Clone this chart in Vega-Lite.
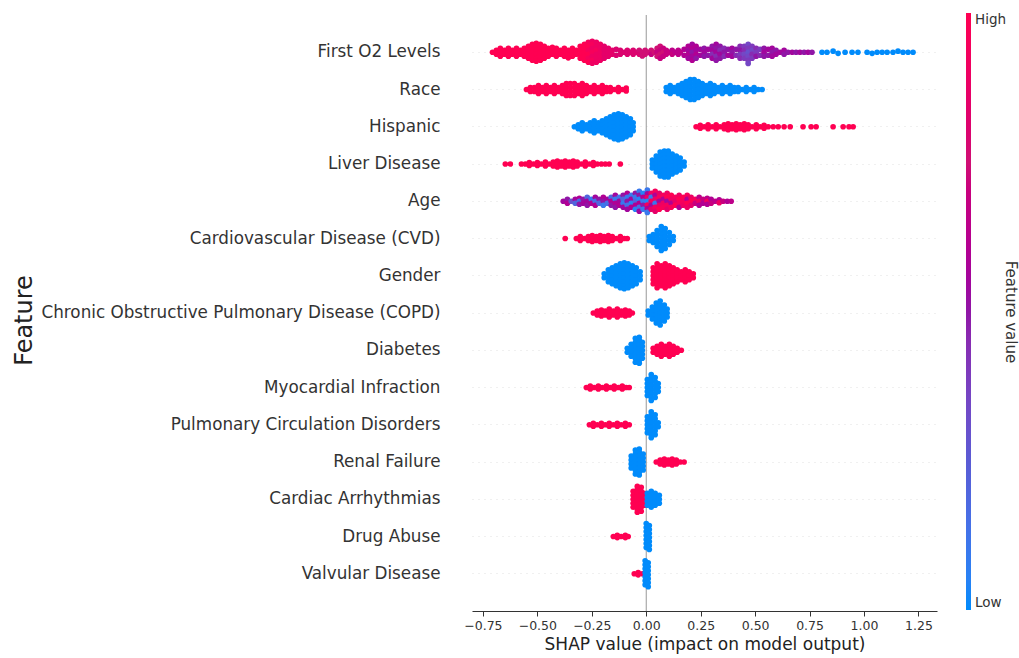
{
"$schema": "https://vega.github.io/schema/vega-lite/v6.json",
"width": 465,
"height": 596,
"autosize": {"type": "none"},
"padding": {"left": 472, "top": 15, "right": 82, "bottom": 47},
"background": "white",
"config": {"view": {"stroke": null}, "font": "DejaVu Sans"},
"datasets": {
"names": [
{"k":"o2","n":"First O2 Levels"},{"k":"ra","n":"Race"},{"k":"hi","n":"Hispanic"},{"k":"li","n":"Liver Disease"},{"k":"ag","n":"Age"},
{"k":"cv","n":"Cardiovascular Disease (CVD)"},{"k":"ge","n":"Gender"},{"k":"co","n":"Chronic Obstructive Pulmonary Disease (COPD)"},{"k":"di","n":"Diabetes"},
{"k":"my","n":"Myocardial Infraction"},{"k":"pu","n":"Pulmonary Circulation Disorders"},{"k":"re","n":"Renal Failure"},{"k":"ca","n":"Cardiac Arrhythmias"},
{"k":"dr","n":"Drug Abuse"},{"k":"va","n":"Valvular Disease"}
],
"pts": [
{"f":"o2","x":-0.706,"j":0,"c":1},
{"f":"o2","x":-0.688,"j":-0.054,"c":1},{"f":"o2","x":-0.688,"j":0.054,"c":1},
{"f":"o2","x":-0.670,"j":-0.107,"c":1},{"f":"o2","x":-0.670,"j":0,"c":1},{"f":"o2","x":-0.670,"j":0.107,"c":1},
{"f":"o2","x":-0.651,"j":-0.054,"c":1},{"f":"o2","x":-0.651,"j":0.054,"c":1},
{"f":"o2","x":-0.633,"j":-0.107,"c":1},{"f":"o2","x":-0.633,"j":0,"c":1},{"f":"o2","x":-0.633,"j":0.107,"c":1},
{"f":"o2","x":-0.615,"j":-0.054,"c":1},{"f":"o2","x":-0.615,"j":0.054,"c":1},
{"f":"o2","x":-0.596,"j":-0.107,"c":1},{"f":"o2","x":-0.596,"j":0,"c":1},{"f":"o2","x":-0.596,"j":0.107,"c":1},
{"f":"o2","x":-0.578,"j":-0.054,"c":1},{"f":"o2","x":-0.578,"j":0.054,"c":1},
{"f":"o2","x":-0.560,"j":-0.107,"c":1},{"f":"o2","x":-0.560,"j":0,"c":1},{"f":"o2","x":-0.560,"j":0.107,"c":1},
{"f":"o2","x":-0.541,"j":-0.161,"c":1},{"f":"o2","x":-0.541,"j":-0.054,"c":1},{"f":"o2","x":-0.541,"j":0.054,"c":1},{"f":"o2","x":-0.541,"j":0.161,"c":1},
{"f":"o2","x":-0.523,"j":-0.215,"c":1},{"f":"o2","x":-0.523,"j":-0.107,"c":1},{"f":"o2","x":-0.523,"j":0,"c":1},{"f":"o2","x":-0.523,"j":0.107,"c":1},{"f":"o2","x":-0.523,"j":0.215,"c":1},
{"f":"o2","x":-0.505,"j":-0.242,"c":1},{"f":"o2","x":-0.505,"j":-0.161,"c":1},{"f":"o2","x":-0.505,"j":-0.054,"c":1},{"f":"o2","x":-0.505,"j":0.054,"c":1},{"f":"o2","x":-0.505,"j":0.161,"c":1},{"f":"o2","x":-0.505,"j":0.242,"c":1},
{"f":"o2","x":-0.486,"j":-0.215,"c":1},{"f":"o2","x":-0.486,"j":-0.107,"c":1},{"f":"o2","x":-0.486,"j":0,"c":1},{"f":"o2","x":-0.486,"j":0.107,"c":1},{"f":"o2","x":-0.486,"j":0.215,"c":1},
{"f":"o2","x":-0.468,"j":-0.161,"c":1},{"f":"o2","x":-0.468,"j":-0.054,"c":1},{"f":"o2","x":-0.468,"j":0.054,"c":1},{"f":"o2","x":-0.468,"j":0.161,"c":1},
{"f":"o2","x":-0.450,"j":-0.107,"c":1},{"f":"o2","x":-0.450,"j":0,"c":1},{"f":"o2","x":-0.450,"j":0.107,"c":1},
{"f":"o2","x":-0.431,"j":-0.134,"c":1},{"f":"o2","x":-0.431,"j":-0.054,"c":1},{"f":"o2","x":-0.431,"j":0.054,"c":1},
{"f":"o2","x":-0.413,"j":-0.107,"c":1},{"f":"o2","x":-0.413,"j":0,"c":1},{"f":"o2","x":-0.413,"j":0.107,"c":1},
{"f":"o2","x":-0.394,"j":-0.054,"c":1},{"f":"o2","x":-0.394,"j":0.054,"c":1},
{"f":"o2","x":-0.376,"j":-0.107,"c":1},{"f":"o2","x":-0.376,"j":0,"c":1},{"f":"o2","x":-0.376,"j":0.107,"c":1},
{"f":"o2","x":-0.358,"j":-0.054,"c":1},{"f":"o2","x":-0.358,"j":0.054,"c":1},{"f":"o2","x":-0.358,"j":0.15,"c":1},
{"f":"o2","x":-0.339,"j":-0.107,"c":1},{"f":"o2","x":-0.339,"j":0,"c":1},{"f":"o2","x":-0.339,"j":0.107,"c":1},
{"f":"o2","x":-0.321,"j":-0.054,"c":1},{"f":"o2","x":-0.321,"j":0.054,"c":1},
{"f":"o2","x":-0.303,"j":-0.161,"c":1},{"f":"o2","x":-0.303,"j":-0.054,"c":1},{"f":"o2","x":-0.303,"j":0.054,"c":1},{"f":"o2","x":-0.303,"j":0.161,"c":1},
{"f":"o2","x":-0.284,"j":-0.215,"c":1},{"f":"o2","x":-0.284,"j":-0.107,"c":1},{"f":"o2","x":-0.284,"j":0,"c":1},{"f":"o2","x":-0.284,"j":0.107,"c":1},{"f":"o2","x":-0.284,"j":0.215,"c":1},
{"f":"o2","x":-0.266,"j":-0.268,"c":0.95},{"f":"o2","x":-0.266,"j":-0.161,"c":1},{"f":"o2","x":-0.266,"j":-0.054,"c":0.95},{"f":"o2","x":-0.266,"j":0.054,"c":1},{"f":"o2","x":-0.266,"j":0.161,"c":0.95},{"f":"o2","x":-0.266,"j":0.268,"c":1},
{"f":"o2","x":-0.248,"j":-0.295,"c":0.9},{"f":"o2","x":-0.248,"j":-0.215,"c":0.95},{"f":"o2","x":-0.248,"j":-0.107,"c":0.9},{"f":"o2","x":-0.248,"j":0,"c":0.95},{"f":"o2","x":-0.248,"j":0.107,"c":0.9},{"f":"o2","x":-0.248,"j":0.215,"c":0.95},{"f":"o2","x":-0.248,"j":0.295,"c":0.9},
{"f":"o2","x":-0.229,"j":-0.268,"c":0.9},{"f":"o2","x":-0.229,"j":-0.161,"c":0.9},{"f":"o2","x":-0.229,"j":-0.054,"c":0.95},{"f":"o2","x":-0.229,"j":0.054,"c":0.9},{"f":"o2","x":-0.229,"j":0.161,"c":0.9},{"f":"o2","x":-0.229,"j":0.268,"c":0.9},
{"f":"o2","x":-0.211,"j":-0.215,"c":0.9},{"f":"o2","x":-0.211,"j":-0.107,"c":0.9},{"f":"o2","x":-0.211,"j":0,"c":0.9},{"f":"o2","x":-0.211,"j":0.107,"c":0.9},{"f":"o2","x":-0.211,"j":0.215,"c":0.9},
{"f":"o2","x":-0.193,"j":-0.161,"c":0.85},{"f":"o2","x":-0.193,"j":-0.054,"c":0.85},{"f":"o2","x":-0.193,"j":0.054,"c":0.85},{"f":"o2","x":-0.193,"j":0.161,"c":0.85},
{"f":"o2","x":-0.174,"j":-0.107,"c":0.85},{"f":"o2","x":-0.174,"j":0,"c":0.85},{"f":"o2","x":-0.174,"j":0.107,"c":0.85},
{"f":"o2","x":-0.156,"j":-0.054,"c":0.85},{"f":"o2","x":-0.156,"j":0.054,"c":0.85},
{"f":"o2","x":-0.138,"j":-0.08,"c":0.8},{"f":"o2","x":-0.138,"j":0.08,"c":0.8},
{"f":"o2","x":-0.119,"j":-0.054,"c":0.8},{"f":"o2","x":-0.119,"j":0.054,"c":0.8},
{"f":"o2","x":-0.101,"j":0,"c":0.8},
{"f":"o2","x":-0.087,"j":-0.054,"c":0.8},{"f":"o2","x":-0.087,"j":0.054,"c":0.8},
{"f":"o2","x":-0.073,"j":0,"c":0.8},
{"f":"o2","x":-0.060,"j":-0.054,"c":0.8},{"f":"o2","x":-0.060,"j":0.054,"c":0.8},
{"f":"o2","x":-0.046,"j":0,"c":0.8},
{"f":"o2","x":-0.032,"j":-0.054,"c":0.75},{"f":"o2","x":-0.032,"j":0.054,"c":0.8},
{"f":"o2","x":-0.018,"j":0,"c":0.75},{"f":"o2","x":-0.018,"j":0.1,"c":0.75},
{"f":"o2","x":-0.005,"j":-0.054,"c":0.75},{"f":"o2","x":-0.005,"j":0.054,"c":0.75},
{"f":"o2","x":0.009,"j":0,"c":0.75},
{"f":"o2","x":0.023,"j":-0.054,"c":0.75},{"f":"o2","x":0.023,"j":0.054,"c":0.7},
{"f":"o2","x":0.037,"j":0,"c":0.75},
{"f":"o2","x":0.050,"j":-0.107,"c":0.75},{"f":"o2","x":0.050,"j":0,"c":0.7},{"f":"o2","x":0.050,"j":0.107,"c":0.75},
{"f":"o2","x":0.064,"j":-0.161,"c":0.75},{"f":"o2","x":0.064,"j":-0.054,"c":0.7},{"f":"o2","x":0.064,"j":0.054,"c":0.75},{"f":"o2","x":0.064,"j":0.161,"c":0.7},
{"f":"o2","x":0.078,"j":-0.107,"c":0.7},{"f":"o2","x":0.078,"j":0,"c":0.75},{"f":"o2","x":0.078,"j":0.107,"c":0.7},
{"f":"o2","x":0.092,"j":-0.054,"c":0.7},{"f":"o2","x":0.092,"j":0.054,"c":0.7},
{"f":"o2","x":0.106,"j":0,"c":0.7},
{"f":"o2","x":0.119,"j":-0.054,"c":0.65},{"f":"o2","x":0.119,"j":0.054,"c":0.7},
{"f":"o2","x":0.133,"j":0,"c":0.65},
{"f":"o2","x":0.147,"j":-0.054,"c":0.65},{"f":"o2","x":0.147,"j":0.054,"c":0.65},
{"f":"o2","x":0.156,"j":0,"c":0.65},
{"f":"o2","x":0.174,"j":-0.08,"c":0.6},{"f":"o2","x":0.174,"j":0.08,"c":0.6},
{"f":"o2","x":0.193,"j":-0.161,"c":0.6},{"f":"o2","x":0.193,"j":-0.054,"c":0.55},{"f":"o2","x":0.193,"j":0.054,"c":0.6},{"f":"o2","x":0.193,"j":0.161,"c":0.55},
{"f":"o2","x":0.211,"j":-0.215,"c":0.55},{"f":"o2","x":0.211,"j":-0.107,"c":0.6},{"f":"o2","x":0.211,"j":0,"c":0.5},{"f":"o2","x":0.211,"j":0.107,"c":0.55},{"f":"o2","x":0.211,"j":0.215,"c":0.6},
{"f":"o2","x":0.229,"j":-0.161,"c":0.6},{"f":"o2","x":0.229,"j":-0.054,"c":0.55},{"f":"o2","x":0.229,"j":0.054,"c":0.6},{"f":"o2","x":0.229,"j":0.161,"c":0.5},
{"f":"o2","x":0.248,"j":-0.08,"c":0.55},{"f":"o2","x":0.248,"j":0.08,"c":0.55},
{"f":"o2","x":0.266,"j":-0.107,"c":0.5},{"f":"o2","x":0.266,"j":0,"c":0.55},{"f":"o2","x":0.266,"j":0.107,"c":0.5},
{"f":"o2","x":0.284,"j":-0.08,"c":0.55},{"f":"o2","x":0.284,"j":0.08,"c":0.5},
{"f":"o2","x":0.303,"j":-0.161,"c":0.5},{"f":"o2","x":0.303,"j":-0.054,"c":0.55},{"f":"o2","x":0.303,"j":0.054,"c":0.45},{"f":"o2","x":0.303,"j":0.161,"c":0.55},
{"f":"o2","x":0.321,"j":-0.215,"c":0.55},{"f":"o2","x":0.321,"j":-0.107,"c":0.5},{"f":"o2","x":0.321,"j":0,"c":0.55},{"f":"o2","x":0.321,"j":0.107,"c":0.45},{"f":"o2","x":0.321,"j":0.215,"c":0.5},
{"f":"o2","x":0.339,"j":-0.161,"c":0.5},{"f":"o2","x":0.339,"j":-0.054,"c":0.45},{"f":"o2","x":0.339,"j":0.054,"c":0.55},{"f":"o2","x":0.339,"j":0.161,"c":0.5},
{"f":"o2","x":0.358,"j":-0.107,"c":0.45},{"f":"o2","x":0.358,"j":0,"c":0.5},{"f":"o2","x":0.358,"j":0.107,"c":0.45},
{"f":"o2","x":0.376,"j":-0.08,"c":0.5},{"f":"o2","x":0.376,"j":0.08,"c":0.55},
{"f":"o2","x":0.394,"j":-0.107,"c":0.55},{"f":"o2","x":0.394,"j":0,"c":0.5},{"f":"o2","x":0.394,"j":0.107,"c":0.55},
{"f":"o2","x":0.413,"j":-0.08,"c":0.5},{"f":"o2","x":0.413,"j":0.08,"c":0.45},
{"f":"o2","x":0.431,"j":-0.161,"c":0.45},{"f":"o2","x":0.431,"j":-0.054,"c":0.5},{"f":"o2","x":0.431,"j":0.054,"c":0.4},{"f":"o2","x":0.431,"j":0.161,"c":0.45},
{"f":"o2","x":0.450,"j":-0.161,"c":0.4},{"f":"o2","x":0.450,"j":-0.054,"c":0.45},{"f":"o2","x":0.450,"j":0.054,"c":0.35},{"f":"o2","x":0.450,"j":0.161,"c":0.4},
{"f":"o2","x":0.468,"j":-0.215,"c":0.35},{"f":"o2","x":0.468,"j":-0.107,"c":0.4},{"f":"o2","x":0.468,"j":0,"c":0.3},{"f":"o2","x":0.468,"j":0.107,"c":0.35},{"f":"o2","x":0.468,"j":0.215,"c":0.4},{"f":"o2","x":0.468,"j":0.3,"c":0.35},
{"f":"o2","x":0.486,"j":-0.161,"c":0.4},{"f":"o2","x":0.486,"j":-0.054,"c":0.35},{"f":"o2","x":0.486,"j":0.054,"c":0.45},{"f":"o2","x":0.486,"j":0.161,"c":0.4},
{"f":"o2","x":0.505,"j":-0.107,"c":0.45},{"f":"o2","x":0.505,"j":0,"c":0.4},{"f":"o2","x":0.505,"j":0.107,"c":0.5},
{"f":"o2","x":0.523,"j":-0.08,"c":0.4},{"f":"o2","x":0.523,"j":0.08,"c":0.45},
{"f":"o2","x":0.541,"j":-0.107,"c":0.5},{"f":"o2","x":0.541,"j":0,"c":0.55},{"f":"o2","x":0.541,"j":0.107,"c":0.5},
{"f":"o2","x":0.560,"j":-0.08,"c":0.55},{"f":"o2","x":0.560,"j":0.08,"c":0.5},
{"f":"o2","x":0.578,"j":-0.107,"c":0.55},{"f":"o2","x":0.578,"j":0,"c":0.5},{"f":"o2","x":0.578,"j":0.107,"c":0.55},
{"f":"o2","x":0.596,"j":-0.054,"c":0.5},{"f":"o2","x":0.596,"j":0.054,"c":0.55},
{"f":"o2","x":0.615,"j":0,"c":0.55},
{"f":"o2","x":0.633,"j":-0.054,"c":0.55},{"f":"o2","x":0.633,"j":0.054,"c":0.5},
{"f":"o2","x":0.651,"j":0,"c":0.5},
{"f":"o2","x":0.670,"j":0,"c":0.55},
{"f":"o2","x":0.688,"j":0,"c":0.5},
{"f":"o2","x":0.706,"j":0,"c":0.55},
{"f":"o2","x":0.725,"j":0,"c":0.5},
{"f":"o2","x":0.743,"j":0,"c":0.55},
{"f":"o2","x":0.761,"j":0,"c":0.5},
{"f":"o2","x":0.807,"j":0,"c":0},{"f":"o2","x":0.830,"j":0,"c":0},{"f":"o2","x":0.858,"j":-0.03,"c":0},{"f":"o2","x":0.881,"j":0.03,"c":0},
{"f":"o2","x":0.913,"j":0,"c":0},{"f":"o2","x":0.945,"j":0,"c":0},{"f":"o2","x":0.972,"j":0,"c":0},{"f":"o2","x":1.014,"j":0,"c":0},
{"f":"o2","x":1.037,"j":0.03,"c":0},{"f":"o2","x":1.060,"j":0,"c":0},{"f":"o2","x":1.083,"j":0,"c":0},{"f":"o2","x":1.106,"j":0,"c":0},
{"f":"o2","x":1.133,"j":0,"c":0},{"f":"o2","x":1.156,"j":-0.03,"c":0},{"f":"o2","x":1.179,"j":0,"c":0},{"f":"o2","x":1.202,"j":0,"c":0},{"f":"o2","x":1.225,"j":0,"c":0},

{"f":"ra","x":-0.550,"j":0,"c":1},
{"f":"ra","x":-0.532,"j":-0.054,"c":1},{"f":"ra","x":-0.532,"j":0.054,"c":1},
{"f":"ra","x":-0.514,"j":-0.054,"c":1},{"f":"ra","x":-0.514,"j":0.054,"c":1},
{"f":"ra","x":-0.495,"j":-0.107,"c":1},{"f":"ra","x":-0.495,"j":0,"c":1},{"f":"ra","x":-0.495,"j":0.107,"c":1},
{"f":"ra","x":-0.477,"j":-0.054,"c":1},{"f":"ra","x":-0.477,"j":0.054,"c":1},
{"f":"ra","x":-0.459,"j":-0.107,"c":1},{"f":"ra","x":-0.459,"j":0,"c":1},{"f":"ra","x":-0.459,"j":0.107,"c":1},
{"f":"ra","x":-0.440,"j":-0.054,"c":1},{"f":"ra","x":-0.440,"j":0.054,"c":1},
{"f":"ra","x":-0.422,"j":-0.107,"c":1},{"f":"ra","x":-0.422,"j":0,"c":1},{"f":"ra","x":-0.422,"j":0.107,"c":1},
{"f":"ra","x":-0.404,"j":-0.054,"c":1},{"f":"ra","x":-0.404,"j":0.054,"c":1},
{"f":"ra","x":-0.385,"j":-0.107,"c":1},{"f":"ra","x":-0.385,"j":0,"c":1},{"f":"ra","x":-0.385,"j":0.107,"c":1},
{"f":"ra","x":-0.367,"j":-0.161,"c":1},{"f":"ra","x":-0.367,"j":-0.054,"c":1},{"f":"ra","x":-0.367,"j":0.054,"c":1},{"f":"ra","x":-0.367,"j":0.161,"c":1},
{"f":"ra","x":-0.349,"j":-0.161,"c":1},{"f":"ra","x":-0.349,"j":-0.054,"c":1},{"f":"ra","x":-0.349,"j":0.054,"c":1},{"f":"ra","x":-0.349,"j":0.161,"c":1},
{"f":"ra","x":-0.330,"j":-0.161,"c":1},{"f":"ra","x":-0.330,"j":-0.054,"c":1},{"f":"ra","x":-0.330,"j":0.054,"c":1},{"f":"ra","x":-0.330,"j":0.161,"c":1},
{"f":"ra","x":-0.312,"j":-0.107,"c":1},{"f":"ra","x":-0.312,"j":0,"c":1},{"f":"ra","x":-0.312,"j":0.107,"c":1},
{"f":"ra","x":-0.294,"j":-0.161,"c":1},{"f":"ra","x":-0.294,"j":-0.054,"c":1},{"f":"ra","x":-0.294,"j":0.054,"c":1},{"f":"ra","x":-0.294,"j":0.161,"c":1},
{"f":"ra","x":-0.275,"j":-0.107,"c":1},{"f":"ra","x":-0.275,"j":0,"c":1},{"f":"ra","x":-0.275,"j":0.107,"c":1},
{"f":"ra","x":-0.257,"j":-0.054,"c":1},{"f":"ra","x":-0.257,"j":0.054,"c":1},
{"f":"ra","x":-0.239,"j":-0.107,"c":1},{"f":"ra","x":-0.239,"j":0,"c":1},{"f":"ra","x":-0.239,"j":0.107,"c":1},
{"f":"ra","x":-0.220,"j":-0.054,"c":1},{"f":"ra","x":-0.220,"j":0.054,"c":1},
{"f":"ra","x":-0.202,"j":-0.107,"c":1},{"f":"ra","x":-0.202,"j":0,"c":1},{"f":"ra","x":-0.202,"j":0.107,"c":1},
{"f":"ra","x":-0.183,"j":-0.054,"c":1},{"f":"ra","x":-0.183,"j":0.054,"c":1},
{"f":"ra","x":-0.165,"j":-0.054,"c":1},{"f":"ra","x":-0.165,"j":0.054,"c":1},
{"f":"ra","x":-0.147,"j":0,"c":1},
{"f":"ra","x":-0.128,"j":-0.054,"c":1},{"f":"ra","x":-0.128,"j":0.054,"c":1},
{"f":"ra","x":-0.110,"j":0,"c":1},
{"f":"ra","x":-0.092,"j":-0.04,"c":1},{"f":"ra","x":-0.092,"j":0.04,"c":1},
{"f":"ra","x":0.092,"j":-0.054,"c":0},{"f":"ra","x":0.092,"j":0.054,"c":0},
{"f":"ra","x":0.110,"j":-0.107,"c":0},{"f":"ra","x":0.110,"j":0,"c":0},{"f":"ra","x":0.110,"j":0.107,"c":0},
{"f":"ra","x":0.128,"j":-0.054,"c":0},{"f":"ra","x":0.128,"j":0.054,"c":0},
{"f":"ra","x":0.147,"j":-0.107,"c":0},{"f":"ra","x":0.147,"j":0,"c":0},{"f":"ra","x":0.147,"j":0.107,"c":0},
{"f":"ra","x":0.165,"j":-0.161,"c":0},{"f":"ra","x":0.165,"j":-0.054,"c":0},{"f":"ra","x":0.165,"j":0.054,"c":0},{"f":"ra","x":0.165,"j":0.161,"c":0},
{"f":"ra","x":0.183,"j":-0.215,"c":0},{"f":"ra","x":0.183,"j":-0.107,"c":0},{"f":"ra","x":0.183,"j":0,"c":0},{"f":"ra","x":0.183,"j":0.107,"c":0},{"f":"ra","x":0.183,"j":0.215,"c":0},
{"f":"ra","x":0.202,"j":-0.268,"c":0},{"f":"ra","x":0.202,"j":-0.161,"c":0},{"f":"ra","x":0.202,"j":-0.054,"c":0},{"f":"ra","x":0.202,"j":0.054,"c":0},{"f":"ra","x":0.202,"j":0.161,"c":0},{"f":"ra","x":0.202,"j":0.268,"c":0},
{"f":"ra","x":0.220,"j":-0.268,"c":0},{"f":"ra","x":0.220,"j":-0.161,"c":0},{"f":"ra","x":0.220,"j":-0.054,"c":0},{"f":"ra","x":0.220,"j":0.054,"c":0},{"f":"ra","x":0.220,"j":0.161,"c":0},{"f":"ra","x":0.220,"j":0.268,"c":0},
{"f":"ra","x":0.239,"j":-0.215,"c":0},{"f":"ra","x":0.239,"j":-0.107,"c":0},{"f":"ra","x":0.239,"j":0,"c":0},{"f":"ra","x":0.239,"j":0.107,"c":0},{"f":"ra","x":0.239,"j":0.215,"c":0},
{"f":"ra","x":0.257,"j":-0.161,"c":0},{"f":"ra","x":0.257,"j":-0.054,"c":0},{"f":"ra","x":0.257,"j":0.054,"c":0},{"f":"ra","x":0.257,"j":0.161,"c":0},
{"f":"ra","x":0.275,"j":-0.107,"c":0},{"f":"ra","x":0.275,"j":0,"c":0},{"f":"ra","x":0.275,"j":0.107,"c":0},
{"f":"ra","x":0.294,"j":-0.161,"c":0},{"f":"ra","x":0.294,"j":-0.054,"c":0},{"f":"ra","x":0.294,"j":0.054,"c":0},{"f":"ra","x":0.294,"j":0.161,"c":0},
{"f":"ra","x":0.312,"j":-0.107,"c":0},{"f":"ra","x":0.312,"j":0,"c":0},{"f":"ra","x":0.312,"j":0.107,"c":0},
{"f":"ra","x":0.330,"j":-0.054,"c":0},{"f":"ra","x":0.330,"j":0.054,"c":0},
{"f":"ra","x":0.349,"j":-0.107,"c":0},{"f":"ra","x":0.349,"j":0,"c":0},{"f":"ra","x":0.349,"j":0.107,"c":0},
{"f":"ra","x":0.367,"j":-0.054,"c":0},{"f":"ra","x":0.367,"j":0.054,"c":0},
{"f":"ra","x":0.385,"j":-0.107,"c":0},{"f":"ra","x":0.385,"j":0,"c":0},{"f":"ra","x":0.385,"j":0.107,"c":0},
{"f":"ra","x":0.404,"j":-0.054,"c":0},{"f":"ra","x":0.404,"j":0.054,"c":0},
{"f":"ra","x":0.422,"j":-0.054,"c":0},{"f":"ra","x":0.422,"j":0.054,"c":0},
{"f":"ra","x":0.440,"j":0,"c":0},
{"f":"ra","x":0.459,"j":-0.054,"c":0},{"f":"ra","x":0.459,"j":0.054,"c":0},
{"f":"ra","x":0.477,"j":0,"c":0},
{"f":"ra","x":0.495,"j":-0.054,"c":0},{"f":"ra","x":0.495,"j":0.054,"c":0},
{"f":"ra","x":0.514,"j":0,"c":0},{"f":"ra","x":0.532,"j":0,"c":0},

{"f":"hi","x":-0.330,"j":0,"c":0},
{"f":"hi","x":-0.312,"j":-0.054,"c":0},{"f":"hi","x":-0.312,"j":0.054,"c":0},
{"f":"hi","x":-0.294,"j":-0.107,"c":0},{"f":"hi","x":-0.294,"j":0,"c":0},{"f":"hi","x":-0.294,"j":0.107,"c":0},
{"f":"hi","x":-0.275,"j":-0.054,"c":0},{"f":"hi","x":-0.275,"j":0.054,"c":0},
{"f":"hi","x":-0.257,"j":-0.107,"c":0},{"f":"hi","x":-0.257,"j":0,"c":0},{"f":"hi","x":-0.257,"j":0.107,"c":0},
{"f":"hi","x":-0.239,"j":-0.161,"c":0},{"f":"hi","x":-0.239,"j":-0.054,"c":0},{"f":"hi","x":-0.239,"j":0.054,"c":0},{"f":"hi","x":-0.239,"j":0.161,"c":0},
{"f":"hi","x":-0.220,"j":-0.107,"c":0},{"f":"hi","x":-0.220,"j":0,"c":0},{"f":"hi","x":-0.220,"j":0.107,"c":0},
{"f":"hi","x":-0.202,"j":-0.161,"c":0},{"f":"hi","x":-0.202,"j":-0.054,"c":0},{"f":"hi","x":-0.202,"j":0.054,"c":0},{"f":"hi","x":-0.202,"j":0.161,"c":0},
{"f":"hi","x":-0.183,"j":-0.215,"c":0},{"f":"hi","x":-0.183,"j":-0.107,"c":0},{"f":"hi","x":-0.183,"j":0,"c":0},{"f":"hi","x":-0.183,"j":0.107,"c":0},{"f":"hi","x":-0.183,"j":0.215,"c":0},
{"f":"hi","x":-0.165,"j":-0.268,"c":0},{"f":"hi","x":-0.165,"j":-0.161,"c":0},{"f":"hi","x":-0.165,"j":-0.054,"c":0},{"f":"hi","x":-0.165,"j":0.054,"c":0},{"f":"hi","x":-0.165,"j":0.161,"c":0},{"f":"hi","x":-0.165,"j":0.268,"c":0},
{"f":"hi","x":-0.147,"j":-0.322,"c":0},{"f":"hi","x":-0.147,"j":-0.215,"c":0},{"f":"hi","x":-0.147,"j":-0.107,"c":0},{"f":"hi","x":-0.147,"j":0,"c":0},{"f":"hi","x":-0.147,"j":0.107,"c":0},{"f":"hi","x":-0.147,"j":0.215,"c":0},{"f":"hi","x":-0.147,"j":0.322,"c":0},
{"f":"hi","x":-0.128,"j":-0.35,"c":0},{"f":"hi","x":-0.128,"j":-0.268,"c":0},{"f":"hi","x":-0.128,"j":-0.161,"c":0},{"f":"hi","x":-0.128,"j":-0.054,"c":0},{"f":"hi","x":-0.128,"j":0.054,"c":0},{"f":"hi","x":-0.128,"j":0.161,"c":0},{"f":"hi","x":-0.128,"j":0.268,"c":0},{"f":"hi","x":-0.128,"j":0.35,"c":0},
{"f":"hi","x":-0.110,"j":-0.322,"c":0},{"f":"hi","x":-0.110,"j":-0.215,"c":0},{"f":"hi","x":-0.110,"j":-0.107,"c":0},{"f":"hi","x":-0.110,"j":0,"c":0},{"f":"hi","x":-0.110,"j":0.107,"c":0},{"f":"hi","x":-0.110,"j":0.215,"c":0},{"f":"hi","x":-0.110,"j":0.322,"c":0},
{"f":"hi","x":-0.092,"j":-0.268,"c":0},{"f":"hi","x":-0.092,"j":-0.161,"c":0},{"f":"hi","x":-0.092,"j":-0.054,"c":0},{"f":"hi","x":-0.092,"j":0.054,"c":0},{"f":"hi","x":-0.092,"j":0.161,"c":0},{"f":"hi","x":-0.092,"j":0.268,"c":0},
{"f":"hi","x":-0.073,"j":-0.215,"c":0},{"f":"hi","x":-0.073,"j":-0.107,"c":0},{"f":"hi","x":-0.073,"j":0,"c":0},{"f":"hi","x":-0.073,"j":0.107,"c":0},{"f":"hi","x":-0.073,"j":0.215,"c":0},
{"f":"hi","x":-0.060,"j":-0.107,"c":0},{"f":"hi","x":-0.060,"j":0,"c":0},{"f":"hi","x":-0.060,"j":0.107,"c":0},
{"f":"hi","x":0.229,"j":0,"c":1},{"f":"hi","x":0.248,"j":-0.04,"c":1},{"f":"hi","x":0.248,"j":0.04,"c":1},{"f":"hi","x":0.266,"j":0,"c":1},
{"f":"hi","x":0.284,"j":-0.054,"c":1},{"f":"hi","x":0.284,"j":0.054,"c":1},{"f":"hi","x":0.303,"j":0,"c":1},
{"f":"hi","x":0.321,"j":-0.054,"c":1},{"f":"hi","x":0.321,"j":0.054,"c":1},{"f":"hi","x":0.339,"j":0,"c":1},
{"f":"hi","x":0.358,"j":-0.054,"c":1},{"f":"hi","x":0.358,"j":0.054,"c":1},
{"f":"hi","x":0.376,"j":-0.08,"c":1},{"f":"hi","x":0.376,"j":0,"c":1},{"f":"hi","x":0.376,"j":0.08,"c":1},
{"f":"hi","x":0.394,"j":-0.054,"c":1},{"f":"hi","x":0.394,"j":0.054,"c":1},
{"f":"hi","x":0.413,"j":-0.08,"c":1},{"f":"hi","x":0.413,"j":0,"c":1},{"f":"hi","x":0.413,"j":0.08,"c":1},
{"f":"hi","x":0.431,"j":-0.054,"c":1},{"f":"hi","x":0.431,"j":0.054,"c":1},
{"f":"hi","x":0.450,"j":-0.08,"c":1},{"f":"hi","x":0.450,"j":0,"c":1},{"f":"hi","x":0.450,"j":0.08,"c":1},
{"f":"hi","x":0.468,"j":-0.054,"c":1},{"f":"hi","x":0.468,"j":0.054,"c":1},
{"f":"hi","x":0.486,"j":0,"c":1},{"f":"hi","x":0.505,"j":-0.054,"c":1},{"f":"hi","x":0.505,"j":0.054,"c":1},
{"f":"hi","x":0.523,"j":0,"c":1},{"f":"hi","x":0.541,"j":-0.04,"c":1},{"f":"hi","x":0.541,"j":0.04,"c":1},
{"f":"hi","x":0.560,"j":0,"c":1},{"f":"hi","x":0.583,"j":0,"c":1},{"f":"hi","x":0.606,"j":0,"c":1},{"f":"hi","x":0.633,"j":0,"c":1},
{"f":"hi","x":0.661,"j":0,"c":1},{"f":"hi","x":0.720,"j":0,"c":1},{"f":"hi","x":0.757,"j":0,"c":1},{"f":"hi","x":0.780,"j":0,"c":1},
{"f":"hi","x":0.858,"j":0,"c":1},{"f":"hi","x":0.904,"j":0,"c":1},{"f":"hi","x":0.931,"j":0,"c":1},{"f":"hi","x":0.950,"j":0,"c":1},

{"f":"li","x":-0.647,"j":0,"c":1},{"f":"li","x":-0.624,"j":0,"c":1},{"f":"li","x":-0.573,"j":0,"c":1},{"f":"li","x":-0.555,"j":0,"c":1},
{"f":"li","x":-0.537,"j":-0.04,"c":1},{"f":"li","x":-0.537,"j":0.04,"c":1},{"f":"li","x":-0.518,"j":0,"c":1},
{"f":"li","x":-0.500,"j":-0.04,"c":1},{"f":"li","x":-0.500,"j":0.04,"c":1},{"f":"li","x":-0.482,"j":0,"c":1},
{"f":"li","x":-0.463,"j":-0.054,"c":1},{"f":"li","x":-0.463,"j":0.054,"c":1},{"f":"li","x":-0.445,"j":0,"c":1},
{"f":"li","x":-0.427,"j":-0.054,"c":1},{"f":"li","x":-0.427,"j":0.054,"c":1},
{"f":"li","x":-0.408,"j":-0.08,"c":1},{"f":"li","x":-0.408,"j":0,"c":1},{"f":"li","x":-0.408,"j":0.08,"c":1},
{"f":"li","x":-0.390,"j":-0.054,"c":1},{"f":"li","x":-0.390,"j":0.054,"c":1},
{"f":"li","x":-0.372,"j":-0.08,"c":1},{"f":"li","x":-0.372,"j":0,"c":1},{"f":"li","x":-0.372,"j":0.08,"c":1},
{"f":"li","x":-0.353,"j":-0.054,"c":1},{"f":"li","x":-0.353,"j":0.054,"c":1},
{"f":"li","x":-0.335,"j":-0.08,"c":1},{"f":"li","x":-0.335,"j":0,"c":1},{"f":"li","x":-0.335,"j":0.08,"c":1},
{"f":"li","x":-0.317,"j":-0.054,"c":1},{"f":"li","x":-0.317,"j":0.054,"c":1},{"f":"li","x":-0.298,"j":0,"c":1},
{"f":"li","x":-0.280,"j":-0.054,"c":1},{"f":"li","x":-0.280,"j":0.054,"c":1},{"f":"li","x":-0.261,"j":0,"c":1},
{"f":"li","x":-0.243,"j":-0.04,"c":1},{"f":"li","x":-0.243,"j":0.04,"c":1},{"f":"li","x":-0.225,"j":0,"c":1},
{"f":"li","x":-0.206,"j":0,"c":1},{"f":"li","x":-0.188,"j":0,"c":1},{"f":"li","x":-0.170,"j":0,"c":1},{"f":"li","x":-0.119,"j":0,"c":1},
{"f":"li","x":0.028,"j":-0.107,"c":0},{"f":"li","x":0.028,"j":0,"c":0},{"f":"li","x":0.028,"j":0.107,"c":0},
{"f":"li","x":0.046,"j":-0.215,"c":0},{"f":"li","x":0.046,"j":-0.107,"c":0},{"f":"li","x":0.046,"j":0,"c":0},{"f":"li","x":0.046,"j":0.107,"c":0},{"f":"li","x":0.046,"j":0.215,"c":0},
{"f":"li","x":0.064,"j":-0.322,"c":0},{"f":"li","x":0.064,"j":-0.215,"c":0},{"f":"li","x":0.064,"j":-0.107,"c":0},{"f":"li","x":0.064,"j":0,"c":0},{"f":"li","x":0.064,"j":0.107,"c":0},{"f":"li","x":0.064,"j":0.215,"c":0},{"f":"li","x":0.064,"j":0.322,"c":0},
{"f":"li","x":0.083,"j":-0.35,"c":0},{"f":"li","x":0.083,"j":-0.268,"c":0},{"f":"li","x":0.083,"j":-0.161,"c":0},{"f":"li","x":0.083,"j":-0.054,"c":0},{"f":"li","x":0.083,"j":0.054,"c":0},{"f":"li","x":0.083,"j":0.161,"c":0},{"f":"li","x":0.083,"j":0.268,"c":0},{"f":"li","x":0.083,"j":0.35,"c":0},
{"f":"li","x":0.101,"j":-0.35,"c":0},{"f":"li","x":0.101,"j":-0.268,"c":0},{"f":"li","x":0.101,"j":-0.161,"c":0},{"f":"li","x":0.101,"j":-0.054,"c":0},{"f":"li","x":0.101,"j":0.054,"c":0},{"f":"li","x":0.101,"j":0.161,"c":0},{"f":"li","x":0.101,"j":0.268,"c":0},{"f":"li","x":0.101,"j":0.35,"c":0},
{"f":"li","x":0.119,"j":-0.268,"c":0},{"f":"li","x":0.119,"j":-0.161,"c":0},{"f":"li","x":0.119,"j":-0.054,"c":0},{"f":"li","x":0.119,"j":0.054,"c":0},{"f":"li","x":0.119,"j":0.161,"c":0},{"f":"li","x":0.119,"j":0.268,"c":0},
{"f":"li","x":0.138,"j":-0.215,"c":0},{"f":"li","x":0.138,"j":-0.107,"c":0},{"f":"li","x":0.138,"j":0,"c":0},{"f":"li","x":0.138,"j":0.107,"c":0},{"f":"li","x":0.138,"j":0.215,"c":0},
{"f":"li","x":0.156,"j":-0.161,"c":0},{"f":"li","x":0.156,"j":-0.054,"c":0},{"f":"li","x":0.156,"j":0.054,"c":0},{"f":"li","x":0.156,"j":0.161,"c":0},
{"f":"li","x":0.174,"j":-0.054,"c":0},{"f":"li","x":0.174,"j":0.054,"c":0},

{"f":"ag","x":-0.381,"j":0,"c":0.55},
{"f":"ag","x":-0.362,"j":-0.054,"c":0.5},{"f":"ag","x":-0.362,"j":0.054,"c":0.6},
{"f":"ag","x":-0.344,"j":0,"c":0.3},
{"f":"ag","x":-0.326,"j":-0.054,"c":0.55},{"f":"ag","x":-0.326,"j":0.054,"c":0.2},
{"f":"ag","x":-0.307,"j":-0.08,"c":0.6},{"f":"ag","x":-0.307,"j":0,"c":0.15},{"f":"ag","x":-0.307,"j":0.08,"c":0.5},
{"f":"ag","x":-0.289,"j":-0.054,"c":0.5},{"f":"ag","x":-0.289,"j":0.054,"c":0.55},
{"f":"ag","x":-0.271,"j":-0.107,"c":0.2},{"f":"ag","x":-0.271,"j":0,"c":0.55},{"f":"ag","x":-0.271,"j":0.107,"c":0.5},
{"f":"ag","x":-0.252,"j":-0.054,"c":0.1},{"f":"ag","x":-0.252,"j":0.054,"c":0.6},
{"f":"ag","x":-0.234,"j":-0.107,"c":0.55},{"f":"ag","x":-0.234,"j":0,"c":0.15},{"f":"ag","x":-0.234,"j":0.107,"c":0.6},
{"f":"ag","x":-0.216,"j":-0.054,"c":0.5},{"f":"ag","x":-0.216,"j":0.054,"c":0.2},
{"f":"ag","x":-0.197,"j":-0.107,"c":0.6},{"f":"ag","x":-0.197,"j":0,"c":0.5},{"f":"ag","x":-0.197,"j":0.107,"c":0.1},
{"f":"ag","x":-0.179,"j":-0.054,"c":0.55},{"f":"ag","x":-0.179,"j":0.054,"c":0.15},
{"f":"ag","x":-0.161,"j":-0.107,"c":0.2},{"f":"ag","x":-0.161,"j":0,"c":0.6},{"f":"ag","x":-0.161,"j":0.107,"c":0.5},
{"f":"ag","x":-0.142,"j":-0.161,"c":0.55},{"f":"ag","x":-0.142,"j":-0.054,"c":0.1},{"f":"ag","x":-0.142,"j":0.054,"c":0.6},{"f":"ag","x":-0.142,"j":0.161,"c":0.5},
{"f":"ag","x":-0.124,"j":-0.107,"c":0.15},{"f":"ag","x":-0.124,"j":0,"c":0.55},{"f":"ag","x":-0.124,"j":0.107,"c":0.6},
{"f":"ag","x":-0.106,"j":-0.161,"c":0.5},{"f":"ag","x":-0.106,"j":-0.054,"c":0.2},{"f":"ag","x":-0.106,"j":0.054,"c":0.1},{"f":"ag","x":-0.106,"j":0.161,"c":0.55},
{"f":"ag","x":-0.087,"j":-0.215,"c":0.6},{"f":"ag","x":-0.087,"j":-0.107,"c":0.1},{"f":"ag","x":-0.087,"j":0,"c":0.5},{"f":"ag","x":-0.087,"j":0.107,"c":0.15},{"f":"ag","x":-0.087,"j":0.215,"c":0.55},
{"f":"ag","x":-0.069,"j":-0.161,"c":0.1},{"f":"ag","x":-0.069,"j":-0.054,"c":0.55},{"f":"ag","x":-0.069,"j":0.054,"c":0.05},{"f":"ag","x":-0.069,"j":0.161,"c":0.6},
{"f":"ag","x":-0.050,"j":-0.215,"c":0.5},{"f":"ag","x":-0.050,"j":-0.107,"c":0.1},{"f":"ag","x":-0.050,"j":0,"c":0.2},{"f":"ag","x":-0.050,"j":0.107,"c":0.6},{"f":"ag","x":-0.050,"j":0.215,"c":0.05},
{"f":"ag","x":-0.032,"j":-0.268,"c":0.1},{"f":"ag","x":-0.032,"j":-0.161,"c":0.5},{"f":"ag","x":-0.032,"j":-0.054,"c":0.05},{"f":"ag","x":-0.032,"j":0.054,"c":0.6},{"f":"ag","x":-0.032,"j":0.161,"c":0.15},{"f":"ag","x":-0.032,"j":0.268,"c":0.55},
{"f":"ag","x":-0.014,"j":-0.215,"c":0.05},{"f":"ag","x":-0.014,"j":-0.107,"c":0.6},{"f":"ag","x":-0.014,"j":0,"c":0.1},{"f":"ag","x":-0.014,"j":0.107,"c":0.5},{"f":"ag","x":-0.014,"j":0.215,"c":0.1},
{"f":"ag","x":0.005,"j":-0.3,"c":0.1},{"f":"ag","x":0.005,"j":-0.2,"c":0.55},{"f":"ag","x":0.005,"j":-0.1,"c":0.9},{"f":"ag","x":0.005,"j":0,"c":0.05},{"f":"ag","x":0.005,"j":0.1,"c":0.95},{"f":"ag","x":0.005,"j":0.2,"c":0.6},{"f":"ag","x":0.005,"j":0.3,"c":0.1},
{"f":"ag","x":0.023,"j":-0.215,"c":0.9},{"f":"ag","x":0.023,"j":-0.107,"c":0.1},{"f":"ag","x":0.023,"j":0,"c":0.95},{"f":"ag","x":0.023,"j":0.107,"c":0.55},{"f":"ag","x":0.023,"j":0.215,"c":0.85},
{"f":"ag","x":0.041,"j":-0.268,"c":0.95},{"f":"ag","x":0.041,"j":-0.161,"c":0.6},{"f":"ag","x":0.041,"j":-0.054,"c":0.9},{"f":"ag","x":0.041,"j":0.054,"c":0.1},{"f":"ag","x":0.041,"j":0.161,"c":0.95},{"f":"ag","x":0.041,"j":0.268,"c":0.85},
{"f":"ag","x":0.060,"j":-0.215,"c":0.85},{"f":"ag","x":0.060,"j":-0.107,"c":0.95},{"f":"ag","x":0.060,"j":0,"c":0.55},{"f":"ag","x":0.060,"j":0.107,"c":0.9},{"f":"ag","x":0.060,"j":0.215,"c":1},
{"f":"ag","x":0.078,"j":-0.161,"c":0.95},{"f":"ag","x":0.078,"j":-0.054,"c":0.6},{"f":"ag","x":0.078,"j":0.054,"c":0.9},{"f":"ag","x":0.078,"j":0.161,"c":0.95},
{"f":"ag","x":0.096,"j":-0.215,"c":0.9},{"f":"ag","x":0.096,"j":-0.107,"c":1},{"f":"ag","x":0.096,"j":0,"c":0.55},{"f":"ag","x":0.096,"j":0.107,"c":0.95},{"f":"ag","x":0.096,"j":0.215,"c":0.85},
{"f":"ag","x":0.115,"j":-0.161,"c":1},{"f":"ag","x":0.115,"j":-0.054,"c":0.9},{"f":"ag","x":0.115,"j":0.054,"c":0.6},{"f":"ag","x":0.115,"j":0.161,"c":0.95},
{"f":"ag","x":0.133,"j":-0.107,"c":0.95},{"f":"ag","x":0.133,"j":0,"c":0.85},{"f":"ag","x":0.133,"j":0.107,"c":1},
{"f":"ag","x":0.151,"j":-0.161,"c":0.9},{"f":"ag","x":0.151,"j":-0.054,"c":1},{"f":"ag","x":0.151,"j":0.054,"c":0.95},{"f":"ag","x":0.151,"j":0.161,"c":0.6},
{"f":"ag","x":0.170,"j":-0.107,"c":1},{"f":"ag","x":0.170,"j":0,"c":0.95},{"f":"ag","x":0.170,"j":0.107,"c":0.9},
{"f":"ag","x":0.188,"j":-0.161,"c":0.95},{"f":"ag","x":0.188,"j":-0.054,"c":0.6},{"f":"ag","x":0.188,"j":0.054,"c":1},{"f":"ag","x":0.188,"j":0.161,"c":0.9},
{"f":"ag","x":0.206,"j":-0.107,"c":0.9},{"f":"ag","x":0.206,"j":0,"c":1},{"f":"ag","x":0.206,"j":0.107,"c":0.85},
{"f":"ag","x":0.225,"j":-0.054,"c":0.95},{"f":"ag","x":0.225,"j":0.054,"c":0.7},
{"f":"ag","x":0.243,"j":-0.107,"c":0.65},{"f":"ag","x":0.243,"j":0,"c":0.9},{"f":"ag","x":0.243,"j":0.107,"c":0.6},
{"f":"ag","x":0.261,"j":-0.054,"c":0.7},{"f":"ag","x":0.261,"j":0.054,"c":0.6},
{"f":"ag","x":0.280,"j":-0.08,"c":0.65},{"f":"ag","x":0.280,"j":0,"c":0.95},{"f":"ag","x":0.280,"j":0.08,"c":0.6},
{"f":"ag","x":0.298,"j":-0.054,"c":0.6},{"f":"ag","x":0.298,"j":0.054,"c":0.7},
{"f":"ag","x":0.317,"j":0,"c":0.65},{"f":"ag","x":0.335,"j":-0.04,"c":0.6},{"f":"ag","x":0.335,"j":0.04,"c":0.9},
{"f":"ag","x":0.353,"j":0,"c":0.7},{"f":"ag","x":0.372,"j":0,"c":0.6},{"f":"ag","x":0.390,"j":0,"c":0.65},

{"f":"cv","x":-0.372,"j":0,"c":1},{"f":"cv","x":-0.321,"j":0,"c":1},
{"f":"cv","x":-0.303,"j":-0.054,"c":1},{"f":"cv","x":-0.303,"j":0.054,"c":1},{"f":"cv","x":-0.284,"j":0,"c":1},
{"f":"cv","x":-0.266,"j":-0.054,"c":1},{"f":"cv","x":-0.266,"j":0.054,"c":1},
{"f":"cv","x":-0.248,"j":-0.08,"c":1},{"f":"cv","x":-0.248,"j":0,"c":1},{"f":"cv","x":-0.248,"j":0.08,"c":1},
{"f":"cv","x":-0.229,"j":-0.054,"c":1},{"f":"cv","x":-0.229,"j":0.054,"c":1},
{"f":"cv","x":-0.211,"j":-0.08,"c":1},{"f":"cv","x":-0.211,"j":0,"c":1},{"f":"cv","x":-0.211,"j":0.08,"c":1},
{"f":"cv","x":-0.193,"j":-0.054,"c":1},{"f":"cv","x":-0.193,"j":0.054,"c":1},
{"f":"cv","x":-0.174,"j":-0.08,"c":1},{"f":"cv","x":-0.174,"j":0,"c":1},{"f":"cv","x":-0.174,"j":0.08,"c":1},
{"f":"cv","x":-0.156,"j":-0.054,"c":1},{"f":"cv","x":-0.156,"j":0.054,"c":1},{"f":"cv","x":-0.138,"j":0,"c":1},
{"f":"cv","x":-0.119,"j":-0.054,"c":1},{"f":"cv","x":-0.119,"j":0.054,"c":1},{"f":"cv","x":-0.101,"j":0,"c":1},{"f":"cv","x":-0.087,"j":0,"c":1},
{"f":"cv","x":0.014,"j":-0.054,"c":0},{"f":"cv","x":0.014,"j":0.054,"c":0},
{"f":"cv","x":0.032,"j":-0.107,"c":0},{"f":"cv","x":0.032,"j":0,"c":0},{"f":"cv","x":0.032,"j":0.107,"c":0},
{"f":"cv","x":0.050,"j":-0.215,"c":0},{"f":"cv","x":0.050,"j":-0.107,"c":0},{"f":"cv","x":0.050,"j":0,"c":0},{"f":"cv","x":0.050,"j":0.107,"c":0},{"f":"cv","x":0.050,"j":0.215,"c":0},
{"f":"cv","x":0.069,"j":-0.322,"c":0},{"f":"cv","x":0.069,"j":-0.215,"c":0},{"f":"cv","x":0.069,"j":-0.107,"c":0},{"f":"cv","x":0.069,"j":0,"c":0},{"f":"cv","x":0.069,"j":0.107,"c":0},{"f":"cv","x":0.069,"j":0.215,"c":0},{"f":"cv","x":0.069,"j":0.322,"c":0},
{"f":"cv","x":0.087,"j":-0.268,"c":0},{"f":"cv","x":0.087,"j":-0.161,"c":0},{"f":"cv","x":0.087,"j":-0.054,"c":0},{"f":"cv","x":0.087,"j":0.054,"c":0},{"f":"cv","x":0.087,"j":0.161,"c":0},{"f":"cv","x":0.087,"j":0.268,"c":0},
{"f":"cv","x":0.106,"j":-0.161,"c":0},{"f":"cv","x":0.106,"j":-0.054,"c":0},{"f":"cv","x":0.106,"j":0.054,"c":0},{"f":"cv","x":0.106,"j":0.161,"c":0},
{"f":"cv","x":0.124,"j":-0.054,"c":0},{"f":"cv","x":0.124,"j":0.054,"c":0},

{"f":"ge","x":-0.193,"j":-0.054,"c":0},{"f":"ge","x":-0.193,"j":0.054,"c":0},
{"f":"ge","x":-0.174,"j":-0.161,"c":0},{"f":"ge","x":-0.174,"j":-0.054,"c":0},{"f":"ge","x":-0.174,"j":0.054,"c":0},{"f":"ge","x":-0.174,"j":0.161,"c":0},
{"f":"ge","x":-0.156,"j":-0.215,"c":0},{"f":"ge","x":-0.156,"j":-0.107,"c":0},{"f":"ge","x":-0.156,"j":0,"c":0},{"f":"ge","x":-0.156,"j":0.107,"c":0},{"f":"ge","x":-0.156,"j":0.215,"c":0},
{"f":"ge","x":-0.138,"j":-0.268,"c":0},{"f":"ge","x":-0.138,"j":-0.161,"c":0},{"f":"ge","x":-0.138,"j":-0.054,"c":0},{"f":"ge","x":-0.138,"j":0.054,"c":0},{"f":"ge","x":-0.138,"j":0.161,"c":0},{"f":"ge","x":-0.138,"j":0.268,"c":0},
{"f":"ge","x":-0.119,"j":-0.322,"c":0},{"f":"ge","x":-0.119,"j":-0.215,"c":0},{"f":"ge","x":-0.119,"j":-0.107,"c":0},{"f":"ge","x":-0.119,"j":0,"c":0},{"f":"ge","x":-0.119,"j":0.107,"c":0},{"f":"ge","x":-0.119,"j":0.215,"c":0},{"f":"ge","x":-0.119,"j":0.322,"c":0},
{"f":"ge","x":-0.101,"j":-0.35,"c":0},{"f":"ge","x":-0.101,"j":-0.268,"c":0},{"f":"ge","x":-0.101,"j":-0.161,"c":0},{"f":"ge","x":-0.101,"j":-0.054,"c":0},{"f":"ge","x":-0.101,"j":0.054,"c":0},{"f":"ge","x":-0.101,"j":0.161,"c":0},{"f":"ge","x":-0.101,"j":0.268,"c":0},{"f":"ge","x":-0.101,"j":0.35,"c":0},
{"f":"ge","x":-0.083,"j":-0.322,"c":0},{"f":"ge","x":-0.083,"j":-0.215,"c":0},{"f":"ge","x":-0.083,"j":-0.107,"c":0},{"f":"ge","x":-0.083,"j":0,"c":0},{"f":"ge","x":-0.083,"j":0.107,"c":0},{"f":"ge","x":-0.083,"j":0.215,"c":0},{"f":"ge","x":-0.083,"j":0.322,"c":0},
{"f":"ge","x":-0.064,"j":-0.268,"c":0},{"f":"ge","x":-0.064,"j":-0.161,"c":0},{"f":"ge","x":-0.064,"j":-0.054,"c":0},{"f":"ge","x":-0.064,"j":0.054,"c":0},{"f":"ge","x":-0.064,"j":0.161,"c":0},{"f":"ge","x":-0.064,"j":0.268,"c":0},
{"f":"ge","x":-0.046,"j":-0.215,"c":0},{"f":"ge","x":-0.046,"j":-0.107,"c":0},{"f":"ge","x":-0.046,"j":0,"c":0},{"f":"ge","x":-0.046,"j":0.107,"c":0},{"f":"ge","x":-0.046,"j":0.215,"c":0},
{"f":"ge","x":-0.028,"j":-0.107,"c":0},{"f":"ge","x":-0.028,"j":0,"c":0},{"f":"ge","x":-0.028,"j":0.107,"c":0},
{"f":"ge","x":0.032,"j":-0.215,"c":1},{"f":"ge","x":0.032,"j":-0.107,"c":1},{"f":"ge","x":0.032,"j":0,"c":1},{"f":"ge","x":0.032,"j":0.107,"c":1},{"f":"ge","x":0.032,"j":0.215,"c":1},
{"f":"ge","x":0.050,"j":-0.322,"c":1},{"f":"ge","x":0.050,"j":-0.215,"c":1},{"f":"ge","x":0.050,"j":-0.107,"c":1},{"f":"ge","x":0.050,"j":0,"c":1},{"f":"ge","x":0.050,"j":0.107,"c":1},{"f":"ge","x":0.050,"j":0.215,"c":1},{"f":"ge","x":0.050,"j":0.322,"c":1},
{"f":"ge","x":0.069,"j":-0.268,"c":1},{"f":"ge","x":0.069,"j":-0.161,"c":1},{"f":"ge","x":0.069,"j":-0.054,"c":1},{"f":"ge","x":0.069,"j":0.054,"c":1},{"f":"ge","x":0.069,"j":0.161,"c":1},{"f":"ge","x":0.069,"j":0.268,"c":1},
{"f":"ge","x":0.087,"j":-0.322,"c":1},{"f":"ge","x":0.087,"j":-0.215,"c":1},{"f":"ge","x":0.087,"j":-0.107,"c":1},{"f":"ge","x":0.087,"j":0,"c":1},{"f":"ge","x":0.087,"j":0.107,"c":1},{"f":"ge","x":0.087,"j":0.215,"c":1},{"f":"ge","x":0.087,"j":0.322,"c":1},
{"f":"ge","x":0.106,"j":-0.268,"c":1},{"f":"ge","x":0.106,"j":-0.161,"c":1},{"f":"ge","x":0.106,"j":-0.054,"c":1},{"f":"ge","x":0.106,"j":0.054,"c":1},{"f":"ge","x":0.106,"j":0.161,"c":1},{"f":"ge","x":0.106,"j":0.268,"c":1},
{"f":"ge","x":0.124,"j":-0.215,"c":1},{"f":"ge","x":0.124,"j":-0.107,"c":1},{"f":"ge","x":0.124,"j":0,"c":1},{"f":"ge","x":0.124,"j":0.107,"c":1},{"f":"ge","x":0.124,"j":0.215,"c":1},
{"f":"ge","x":0.142,"j":-0.161,"c":1},{"f":"ge","x":0.142,"j":-0.054,"c":1},{"f":"ge","x":0.142,"j":0.054,"c":1},{"f":"ge","x":0.142,"j":0.161,"c":1},
{"f":"ge","x":0.161,"j":-0.107,"c":1},{"f":"ge","x":0.161,"j":0,"c":1},{"f":"ge","x":0.161,"j":0.107,"c":1},
{"f":"ge","x":0.179,"j":-0.161,"c":1},{"f":"ge","x":0.179,"j":-0.054,"c":1},{"f":"ge","x":0.179,"j":0.054,"c":1},{"f":"ge","x":0.179,"j":0.161,"c":1},
{"f":"ge","x":0.197,"j":-0.107,"c":1},{"f":"ge","x":0.197,"j":0,"c":1},{"f":"ge","x":0.197,"j":0.107,"c":1},
{"f":"ge","x":0.216,"j":-0.054,"c":1},{"f":"ge","x":0.216,"j":0.054,"c":1},

{"f":"co","x":-0.243,"j":0,"c":1},
{"f":"co","x":-0.225,"j":-0.054,"c":1},{"f":"co","x":-0.225,"j":0.054,"c":1},
{"f":"co","x":-0.206,"j":-0.08,"c":1},{"f":"co","x":-0.206,"j":0,"c":1},{"f":"co","x":-0.206,"j":0.08,"c":1},
{"f":"co","x":-0.188,"j":-0.054,"c":1},{"f":"co","x":-0.188,"j":0.054,"c":1},
{"f":"co","x":-0.170,"j":-0.107,"c":1},{"f":"co","x":-0.170,"j":0,"c":1},{"f":"co","x":-0.170,"j":0.107,"c":1},
{"f":"co","x":-0.151,"j":-0.054,"c":1},{"f":"co","x":-0.151,"j":0.054,"c":1},
{"f":"co","x":-0.133,"j":-0.107,"c":1},{"f":"co","x":-0.133,"j":0,"c":1},{"f":"co","x":-0.133,"j":0.107,"c":1},
{"f":"co","x":-0.115,"j":-0.054,"c":1},{"f":"co","x":-0.115,"j":0.054,"c":1},
{"f":"co","x":-0.096,"j":-0.08,"c":1},{"f":"co","x":-0.096,"j":0,"c":1},{"f":"co","x":-0.096,"j":0.08,"c":1},
{"f":"co","x":-0.078,"j":-0.054,"c":1},{"f":"co","x":-0.078,"j":0.054,"c":1},{"f":"co","x":-0.064,"j":0,"c":1},
{"f":"co","x":0.009,"j":-0.054,"c":0},{"f":"co","x":0.009,"j":0.054,"c":0},
{"f":"co","x":0.028,"j":-0.161,"c":0},{"f":"co","x":0.028,"j":-0.054,"c":0},{"f":"co","x":0.028,"j":0.054,"c":0},{"f":"co","x":0.028,"j":0.161,"c":0},
{"f":"co","x":0.046,"j":-0.268,"c":0},{"f":"co","x":0.046,"j":-0.161,"c":0},{"f":"co","x":0.046,"j":-0.054,"c":0},{"f":"co","x":0.046,"j":0.054,"c":0},{"f":"co","x":0.046,"j":0.161,"c":0},{"f":"co","x":0.046,"j":0.268,"c":0},
{"f":"co","x":0.064,"j":-0.322,"c":0},{"f":"co","x":0.064,"j":-0.215,"c":0},{"f":"co","x":0.064,"j":-0.107,"c":0},{"f":"co","x":0.064,"j":0,"c":0},{"f":"co","x":0.064,"j":0.107,"c":0},{"f":"co","x":0.064,"j":0.215,"c":0},{"f":"co","x":0.064,"j":0.322,"c":0},
{"f":"co","x":0.083,"j":-0.215,"c":0},{"f":"co","x":0.083,"j":-0.107,"c":0},{"f":"co","x":0.083,"j":0,"c":0},{"f":"co","x":0.083,"j":0.107,"c":0},{"f":"co","x":0.083,"j":0.215,"c":0},
{"f":"co","x":0.096,"j":-0.107,"c":0},{"f":"co","x":0.096,"j":0,"c":0},{"f":"co","x":0.096,"j":0.107,"c":0},

{"f":"di","x":-0.087,"j":-0.054,"c":0},{"f":"di","x":-0.087,"j":0.054,"c":0},
{"f":"di","x":-0.069,"j":-0.161,"c":0},{"f":"di","x":-0.069,"j":-0.054,"c":0},{"f":"di","x":-0.069,"j":0.054,"c":0},{"f":"di","x":-0.069,"j":0.161,"c":0},
{"f":"di","x":-0.050,"j":-0.322,"c":0},{"f":"di","x":-0.050,"j":-0.215,"c":0},{"f":"di","x":-0.050,"j":-0.107,"c":0},{"f":"di","x":-0.050,"j":0,"c":0},{"f":"di","x":-0.050,"j":0.107,"c":0},{"f":"di","x":-0.050,"j":0.215,"c":0},{"f":"di","x":-0.050,"j":0.322,"c":0},
{"f":"di","x":-0.032,"j":-0.35,"c":0},{"f":"di","x":-0.032,"j":-0.268,"c":0},{"f":"di","x":-0.032,"j":-0.161,"c":0},{"f":"di","x":-0.032,"j":-0.054,"c":0},{"f":"di","x":-0.032,"j":0.054,"c":0},{"f":"di","x":-0.032,"j":0.161,"c":0},{"f":"di","x":-0.032,"j":0.268,"c":0},{"f":"di","x":-0.032,"j":0.35,"c":0},
{"f":"di","x":-0.018,"j":-0.215,"c":0},{"f":"di","x":-0.018,"j":-0.107,"c":0},{"f":"di","x":-0.018,"j":0,"c":0},{"f":"di","x":-0.018,"j":0.107,"c":0},{"f":"di","x":-0.018,"j":0.215,"c":0},
{"f":"di","x":0.032,"j":-0.054,"c":1},{"f":"di","x":0.032,"j":0.054,"c":1},
{"f":"di","x":0.050,"j":-0.107,"c":1},{"f":"di","x":0.050,"j":0,"c":1},{"f":"di","x":0.050,"j":0.107,"c":1},
{"f":"di","x":0.069,"j":-0.161,"c":1},{"f":"di","x":0.069,"j":-0.054,"c":1},{"f":"di","x":0.069,"j":0.054,"c":1},{"f":"di","x":0.069,"j":0.161,"c":1},
{"f":"di","x":0.087,"j":-0.107,"c":1},{"f":"di","x":0.087,"j":0,"c":1},{"f":"di","x":0.087,"j":0.107,"c":1},
{"f":"di","x":0.106,"j":-0.161,"c":1},{"f":"di","x":0.106,"j":-0.054,"c":1},{"f":"di","x":0.106,"j":0.054,"c":1},{"f":"di","x":0.106,"j":0.161,"c":1},
{"f":"di","x":0.124,"j":-0.107,"c":1},{"f":"di","x":0.124,"j":0,"c":1},{"f":"di","x":0.124,"j":0.107,"c":1},
{"f":"di","x":0.142,"j":-0.054,"c":1},{"f":"di","x":0.142,"j":0.054,"c":1},{"f":"di","x":0.161,"j":0,"c":1},

{"f":"my","x":-0.275,"j":0,"c":1},{"f":"my","x":-0.257,"j":-0.04,"c":1},{"f":"my","x":-0.257,"j":0.04,"c":1},{"f":"my","x":-0.239,"j":0,"c":1},
{"f":"my","x":-0.220,"j":-0.04,"c":1},{"f":"my","x":-0.220,"j":0.04,"c":1},{"f":"my","x":-0.202,"j":0,"c":1},
{"f":"my","x":-0.183,"j":-0.04,"c":1},{"f":"my","x":-0.183,"j":0.04,"c":1},{"f":"my","x":-0.165,"j":0,"c":1},
{"f":"my","x":-0.147,"j":-0.04,"c":1},{"f":"my","x":-0.147,"j":0.04,"c":1},{"f":"my","x":-0.128,"j":0,"c":1},
{"f":"my","x":-0.110,"j":-0.04,"c":1},{"f":"my","x":-0.110,"j":0.04,"c":1},{"f":"my","x":-0.092,"j":0,"c":1},{"f":"my","x":-0.078,"j":0,"c":1},
{"f":"my","x":0.005,"j":-0.215,"c":0},{"f":"my","x":0.005,"j":-0.107,"c":0},{"f":"my","x":0.005,"j":0,"c":0},{"f":"my","x":0.005,"j":0.107,"c":0},{"f":"my","x":0.005,"j":0.215,"c":0},
{"f":"my","x":0.023,"j":-0.35,"c":0},{"f":"my","x":0.023,"j":-0.268,"c":0},{"f":"my","x":0.023,"j":-0.161,"c":0},{"f":"my","x":0.023,"j":-0.054,"c":0},{"f":"my","x":0.023,"j":0.054,"c":0},{"f":"my","x":0.023,"j":0.161,"c":0},{"f":"my","x":0.023,"j":0.268,"c":0},{"f":"my","x":0.023,"j":0.35,"c":0},
{"f":"my","x":0.041,"j":-0.268,"c":0},{"f":"my","x":0.041,"j":-0.161,"c":0},{"f":"my","x":0.041,"j":-0.054,"c":0},{"f":"my","x":0.041,"j":0.054,"c":0},{"f":"my","x":0.041,"j":0.161,"c":0},{"f":"my","x":0.041,"j":0.268,"c":0},
{"f":"my","x":0.055,"j":-0.107,"c":0},{"f":"my","x":0.055,"j":0,"c":0},{"f":"my","x":0.055,"j":0.107,"c":0},

{"f":"pu","x":-0.261,"j":0,"c":1},{"f":"pu","x":-0.243,"j":-0.04,"c":1},{"f":"pu","x":-0.243,"j":0.04,"c":1},{"f":"pu","x":-0.225,"j":0,"c":1},
{"f":"pu","x":-0.206,"j":-0.04,"c":1},{"f":"pu","x":-0.206,"j":0.04,"c":1},{"f":"pu","x":-0.188,"j":0,"c":1},
{"f":"pu","x":-0.170,"j":-0.04,"c":1},{"f":"pu","x":-0.170,"j":0.04,"c":1},{"f":"pu","x":-0.151,"j":0,"c":1},
{"f":"pu","x":-0.133,"j":-0.04,"c":1},{"f":"pu","x":-0.133,"j":0.04,"c":1},{"f":"pu","x":-0.115,"j":0,"c":1},
{"f":"pu","x":-0.096,"j":-0.04,"c":1},{"f":"pu","x":-0.096,"j":0.04,"c":1},{"f":"pu","x":-0.078,"j":0,"c":1},
{"f":"pu","x":0.005,"j":-0.215,"c":0},{"f":"pu","x":0.005,"j":-0.107,"c":0},{"f":"pu","x":0.005,"j":0,"c":0},{"f":"pu","x":0.005,"j":0.107,"c":0},{"f":"pu","x":0.005,"j":0.215,"c":0},
{"f":"pu","x":0.023,"j":-0.35,"c":0},{"f":"pu","x":0.023,"j":-0.268,"c":0},{"f":"pu","x":0.023,"j":-0.161,"c":0},{"f":"pu","x":0.023,"j":-0.054,"c":0},{"f":"pu","x":0.023,"j":0.054,"c":0},{"f":"pu","x":0.023,"j":0.161,"c":0},{"f":"pu","x":0.023,"j":0.268,"c":0},{"f":"pu","x":0.023,"j":0.35,"c":0},
{"f":"pu","x":0.041,"j":-0.268,"c":0},{"f":"pu","x":0.041,"j":-0.161,"c":0},{"f":"pu","x":0.041,"j":-0.054,"c":0},{"f":"pu","x":0.041,"j":0.054,"c":0},{"f":"pu","x":0.041,"j":0.161,"c":0},{"f":"pu","x":0.041,"j":0.268,"c":0},
{"f":"pu","x":0.055,"j":-0.054,"c":0},{"f":"pu","x":0.055,"j":0.054,"c":0},

{"f":"re","x":-0.069,"j":-0.161,"c":0},{"f":"re","x":-0.069,"j":-0.054,"c":0},{"f":"re","x":-0.069,"j":0.054,"c":0},{"f":"re","x":-0.069,"j":0.161,"c":0},
{"f":"re","x":-0.050,"j":-0.322,"c":0},{"f":"re","x":-0.050,"j":-0.215,"c":0},{"f":"re","x":-0.050,"j":-0.107,"c":0},{"f":"re","x":-0.050,"j":0,"c":0},{"f":"re","x":-0.050,"j":0.107,"c":0},{"f":"re","x":-0.050,"j":0.215,"c":0},{"f":"re","x":-0.050,"j":0.322,"c":0},
{"f":"re","x":-0.032,"j":-0.35,"c":0},{"f":"re","x":-0.032,"j":-0.268,"c":0},{"f":"re","x":-0.032,"j":-0.161,"c":0},{"f":"re","x":-0.032,"j":-0.054,"c":0},{"f":"re","x":-0.032,"j":0.054,"c":0},{"f":"re","x":-0.032,"j":0.161,"c":0},{"f":"re","x":-0.032,"j":0.268,"c":0},{"f":"re","x":-0.032,"j":0.35,"c":0},
{"f":"re","x":-0.014,"j":-0.215,"c":0},{"f":"re","x":-0.014,"j":-0.107,"c":0},{"f":"re","x":-0.014,"j":0,"c":0},{"f":"re","x":-0.014,"j":0.107,"c":0},{"f":"re","x":-0.014,"j":0.215,"c":0},
{"f":"re","x":0.046,"j":0,"c":1},{"f":"re","x":0.064,"j":-0.054,"c":1},{"f":"re","x":0.064,"j":0.054,"c":1},
{"f":"re","x":0.083,"j":-0.08,"c":1},{"f":"re","x":0.083,"j":0,"c":1},{"f":"re","x":0.083,"j":0.08,"c":1},
{"f":"re","x":0.101,"j":-0.054,"c":1},{"f":"re","x":0.101,"j":0.054,"c":1},
{"f":"re","x":0.119,"j":-0.08,"c":1},{"f":"re","x":0.119,"j":0,"c":1},{"f":"re","x":0.119,"j":0.08,"c":1},
{"f":"re","x":0.138,"j":-0.054,"c":1},{"f":"re","x":0.138,"j":0.054,"c":1},{"f":"re","x":0.156,"j":0,"c":1},{"f":"re","x":0.174,"j":0,"c":1},

{"f":"ca","x":-0.060,"j":-0.215,"c":1},{"f":"ca","x":-0.060,"j":-0.107,"c":1},{"f":"ca","x":-0.060,"j":0,"c":1},{"f":"ca","x":-0.060,"j":0.107,"c":1},{"f":"ca","x":-0.060,"j":0.215,"c":1},
{"f":"ca","x":-0.041,"j":-0.35,"c":1},{"f":"ca","x":-0.041,"j":-0.268,"c":1},{"f":"ca","x":-0.041,"j":-0.161,"c":1},{"f":"ca","x":-0.041,"j":-0.054,"c":1},{"f":"ca","x":-0.041,"j":0.054,"c":1},{"f":"ca","x":-0.041,"j":0.161,"c":1},{"f":"ca","x":-0.041,"j":0.268,"c":1},{"f":"ca","x":-0.041,"j":0.35,"c":1},
{"f":"ca","x":-0.023,"j":-0.322,"c":1},{"f":"ca","x":-0.023,"j":-0.215,"c":1},{"f":"ca","x":-0.023,"j":-0.107,"c":1},{"f":"ca","x":-0.023,"j":0,"c":1},{"f":"ca","x":-0.023,"j":0.107,"c":1},{"f":"ca","x":-0.023,"j":0.215,"c":1},{"f":"ca","x":-0.023,"j":0.322,"c":1},
{"f":"ca","x":-0.009,"j":-0.161,"c":1},{"f":"ca","x":-0.009,"j":-0.054,"c":1},{"f":"ca","x":-0.009,"j":0.054,"c":1},{"f":"ca","x":-0.009,"j":0.161,"c":1},
{"f":"ca","x":0.005,"j":-0.161,"c":0},{"f":"ca","x":0.005,"j":-0.054,"c":0},{"f":"ca","x":0.005,"j":0.054,"c":0},{"f":"ca","x":0.005,"j":0.161,"c":0},
{"f":"ca","x":0.023,"j":-0.215,"c":0},{"f":"ca","x":0.023,"j":-0.107,"c":0},{"f":"ca","x":0.023,"j":0,"c":0},{"f":"ca","x":0.023,"j":0.107,"c":0},{"f":"ca","x":0.023,"j":0.215,"c":0},
{"f":"ca","x":0.041,"j":-0.161,"c":0},{"f":"ca","x":0.041,"j":-0.054,"c":0},{"f":"ca","x":0.041,"j":0.054,"c":0},{"f":"ca","x":0.041,"j":0.161,"c":0},
{"f":"ca","x":0.060,"j":-0.107,"c":0},{"f":"ca","x":0.060,"j":0,"c":0},{"f":"ca","x":0.060,"j":0.107,"c":0},

{"f":"dr","x":-0.151,"j":0,"c":1},{"f":"dr","x":-0.133,"j":-0.03,"c":1},{"f":"dr","x":-0.133,"j":0.03,"c":1},{"f":"dr","x":-0.115,"j":0,"c":1},
{"f":"dr","x":-0.096,"j":-0.03,"c":1},{"f":"dr","x":-0.096,"j":0.03,"c":1},{"f":"dr","x":-0.083,"j":0,"c":1},
{"f":"dr","x":0.000,"j":-0.35,"c":0},{"f":"dr","x":0.000,"j":-0.242,"c":0},{"f":"dr","x":0.000,"j":-0.134,"c":0},{"f":"dr","x":0.000,"j":-0.027,"c":0},{"f":"dr","x":0.000,"j":0.08,"c":0},{"f":"dr","x":0.000,"j":0.188,"c":0},{"f":"dr","x":0.000,"j":0.295,"c":0},
{"f":"dr","x":0.014,"j":-0.295,"c":0},{"f":"dr","x":0.014,"j":-0.188,"c":0},{"f":"dr","x":0.014,"j":-0.08,"c":0},{"f":"dr","x":0.014,"j":0.027,"c":0},{"f":"dr","x":0.014,"j":0.134,"c":0},{"f":"dr","x":0.014,"j":0.242,"c":0},{"f":"dr","x":0.014,"j":0.35,"c":0},

{"f":"va","x":-0.055,"j":0,"c":1},{"f":"va","x":-0.037,"j":-0.03,"c":1},{"f":"va","x":-0.037,"j":0.03,"c":1},{"f":"va","x":-0.018,"j":0,"c":1},
{"f":"va","x":-0.005,"j":-0.35,"c":0},{"f":"va","x":-0.005,"j":-0.242,"c":0},{"f":"va","x":-0.005,"j":-0.134,"c":0},{"f":"va","x":-0.005,"j":-0.027,"c":0},{"f":"va","x":-0.005,"j":0.08,"c":0},{"f":"va","x":-0.005,"j":0.188,"c":0},{"f":"va","x":-0.005,"j":0.295,"c":0},
{"f":"va","x":0.009,"j":-0.295,"c":0},{"f":"va","x":0.009,"j":-0.188,"c":0},{"f":"va","x":0.009,"j":-0.08,"c":0},{"f":"va","x":0.009,"j":0.027,"c":0},{"f":"va","x":0.009,"j":0.134,"c":0},{"f":"va","x":0.009,"j":0.242,"c":0},{"f":"va","x":0.009,"j":0.35,"c":0}
],
"zero": [{"x": 0}]
},
"layer": [
{
"data": {"name": "zero"},
"mark": {"type": "rule", "color": "#999999", "strokeWidth": 1},
"encoding": {
"x": {"field": "x", "type": "quantitative",
"scale": {"domain": [-0.8, 1.335], "nice": false, "zero": false},
"axis": {"title": "SHAP value (impact on model output)", "values": [-0.75,-0.5,-0.25,0,0.25,0.5,0.75,1,1.25],
"format": ".2f", "labelExpr": "replace(datum.label, '-', '\u2212')",
"grid": false, "domainColor": "#333333", "tickColor": "#333333", "tickSize": 5,
"labelFontSize": 12.5, "labelColor": "#333333", "labelPadding": 3,
"titleFontSize": 17, "titleFontWeight": "normal", "titleColor": "#222222", "titlePadding": 5}}
}
},
{
"data": {"name": "pts"},
"transform": [{"lookup": "f", "from": {"data": {"name": "names"}, "key": "k", "fields": ["n"]}}],
"mark": {"type": "circle", "size": 32, "opacity": 1, "strokeWidth": 0},
"encoding": {
"x": {"field": "x", "type": "quantitative"},
"y": {"field": "n", "type": "nominal",
"scale": {"type": "band", "paddingInner": 0, "paddingOuter": 0.5,
"domain": ["First O2 Levels","Race","Hispanic","Liver Disease","Age","Cardiovascular Disease (CVD)","Gender","Chronic Obstructive Pulmonary Disease (COPD)","Diabetes","Myocardial Infraction","Pulmonary Circulation Disorders","Renal Failure","Cardiac Arrhythmias","Drug Abuse","Valvular Disease"]},
"axis": {"title": "Feature", "domain": false, "ticks": false, "labelPadding": 32, "labelFontSize": 16.8, "labelColor": "#333333", "labelLimit": 600,
"grid": true, "gridColor": "#cccccc", "gridDash": [1, 5], "gridWidth": 0.6, "bandPosition": 0.5,
"titleFontSize": 24, "titleFontWeight": "normal", "titleColor": "#222222", "titleAngle": 270, "titleX": -448, "titleY": 305, "titleAlign": "center", "titleBaseline": "middle"}},
"yOffset": {"field": "j", "type": "quantitative", "scale": {"domain": [-0.5, 0.5], "range": [0, 37.25]}},
"color": {"field": "c", "type": "quantitative",
"scale": {"domain": [0, 0.25, 0.5, 0.75, 1], "range": ["#008bfb", "#5a5bd4", "#9016a6", "#d00f74", "#ff0052"]},
"legend": {"orient": "none", "legendX": 494, "legendY": -2, "direction": "vertical", "gradientLength": 597, "gradientThickness": 5,
"gradientStrokeWidth": 0, "values": [0, 1], "labelExpr": "datum.value >= 1 ? 'High' : 'Low'", "labelFontSize": 13.5, "labelColor": "#333333", "labelOffset": 4,
"title": "Feature value", "titleOrient": "right", "titleAnchor": "middle", "titleFontSize": 15, "titleFontWeight": "normal", "titleColor": "#333333", "titlePadding": -3, "titleAlign": "center",
"encode": {"title": {"update": {"angle": {"value": -90}, "baseline": {"value": "top"}}}}}}
}
}
]
}
